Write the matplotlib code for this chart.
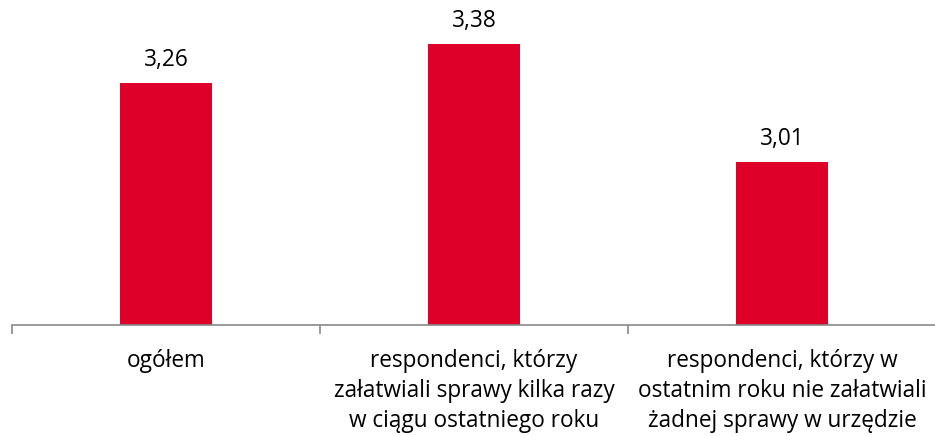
import matplotlib.pyplot as plt

categories = [
    "ogółem",
    "respondenci, którzy\nzałatwiali sprawy kilka razy\nw ciągu ostatniego roku",
    "respondenci, którzy w\nostatnim roku nie załatwiali\nżadnej sprawy w urzędzie",
]
values = [3.26, 3.38, 3.01]
value_labels = ["3,26", "3,38", "3,01"]

plt.rcParams['font.family'] = ['Open Sans', 'DejaVu Sans']

fig = plt.figure(figsize=(9.35, 4.36), dpi=100)
ax = fig.add_axes([12 / 935, 111 / 436, 924 / 935, 319 / 436])

x = list(range(len(categories)))
ax.bar(x, values, width=0.30, color="#DF0029", bottom=0)
ax.set_ylim(2.5, 3.5)
ax.set_xlim(-0.5, 2.5)

for xi, v, lbl in zip(x, values, value_labels):
    ax.annotate(lbl, (xi, v), xytext=(0, 23), textcoords="offset pixels",
                ha="center", va="center", fontsize=16.3, color="#000000")

for s in ["top", "right", "left"]:
    ax.spines[s].set_visible(False)
ax.spines["bottom"].set_color("#898989")
ax.spines["bottom"].set_linewidth(1.2)
ax.set_yticks([])

ax.set_xticks(x)
ax.set_xticklabels([])
ax.tick_params(axis="x", which="major", length=0)
ax.set_xticks([-0.5, 0.5, 1.5, 2.5], minor=True)
ax.tick_params(axis="x", which="minor", length=6.5, width=1.2, color="#898989")

for xi, cat in zip(x, categories):
    ax.annotate(cat, (xi, 2.5), xytext=(0, -24), textcoords="offset pixels",
                ha="center", va="top", fontsize=16.3, linespacing=1.33,
                annotation_clip=False)

plt.savefig("out.png", dpi=100)
